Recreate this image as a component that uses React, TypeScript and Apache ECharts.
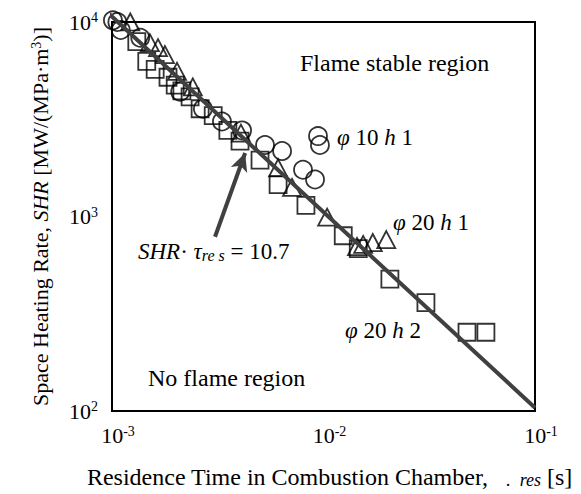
import React, { useEffect, useRef } from 'react';
import * as echarts from 'echarts';

// phi10 h1 (circles)
const circleX = [0.00101, 0.00106, 0.0011, 0.00136, 0.0021, 0.00269, 0.00331, 0.00412, 0.00529, 0.00637, 0.00942, 0.00962, 0.008, 0.00912];
const circleY = [10200, 10000, 9100, 8300, 4380, 3580, 3080, 2770, 2330, 2170, 2590, 2330, 1740, 1550];
// phi20 h1 (triangles)
const triX = [0.00122, 0.00151, 0.00165, 0.00178, 0.00203, 0.00241, 0.00407, 0.0061, 0.0071, 0.0104, 0.0144, 0.0154, 0.0171, 0.0198];
const triY = [10000, 7830, 7380, 6800, 5580, 4640, 2680, 1780, 1410, 993, 701, 718, 735, 761];
// phi20 h2 (squares)
const sqX = [0.00131, 0.00146, 0.0016, 0.00184, 0.00199, 0.00214, 0.00234, 0.00261, 0.00301, 0.00353, 0.00403, 0.00501, 0.0061, 0.00826, 0.0124, 0.0146, 0.0206, 0.0305, 0.0477, 0.0586];
const sqY = [7920, 6270, 5710, 5200, 4740, 4420, 4120, 3580, 3300, 2770, 2440, 1950, 1460, 1140, 796, 684, 476, 361, 254, 254];
// SHR * tau_res = 10.7 reference line
const lineX = [0.00097, 0.1];
const lineY = [11000, 104];
// arrow (tail, head)
const arrowX = [0.00307, 0.00426];
const arrowY = [787, 2120];

const FONT = '"Liberation Serif", "Times New Roman", serif';
const FS = 23;

const pairs = (xs: number[], ys: number[]) => xs.map((x, i) => [x, ys[i]]);

export default function App() {
  const ref = useRef<HTMLDivElement>(null);
  useEffect(() => {
    if (!ref.current) return;
    const chart = echarts.init(ref.current, null, { renderer: 'svg' });
    const markerStyle = { color: 'rgba(0,0,0,0)', borderColor: '#000', borderWidth: 1.8 };
    const tickFmt = (v: number) => `{b|10}{s|${Math.round(Math.log10(v))}}`;
    const supStyle = { fontFamily: FONT, fontSize: 14, color: '#000', verticalAlign: 'top', padding: [0, 0, 9, 0] };
    const xTickRich = {
      b: { fontFamily: FONT, fontSize: 22, color: '#000', padding: [0, 0, 0, 12] },
      s: supStyle,
    };
    const yTickRich = {
      b: { fontFamily: FONT, fontSize: 22, color: '#000' },
      s: supStyle,
    };
    const txt = (x: number, y: number, text: string, fs: number, rich?: any) => ({
      type: 'text', left: x, top: y,
      style: { text, fontFamily: FONT, fontSize: fs, fill: '#000', rich },
    });
    const phiRich = {
      i: { fontFamily: FONT, fontSize: FS, fontStyle: 'italic', color: '#000' },
      n: { fontFamily: FONT, fontSize: FS, color: '#000' },
    };
    chart.setOption({
      animation: false,
      grid: { left: 112, top: 22, width: 423, height: 395, show: true, borderColor: '#000', borderWidth: 2, backgroundColor: 'transparent' },
      xAxis: {
        type: 'log', logBase: 10, min: 0.001, max: 0.1,
        axisLine: { show: true, lineStyle: { color: '#000', width: 2 } },
        axisTick: { show: false }, minorTick: { show: false }, splitLine: { show: false },
        axisLabel: { formatter: tickFmt, rich: xTickRich, margin: 13 },
        name: 'Residence Time in Combustion Chamber,   {sub|.  res} [s]',
        nameLocation: 'middle', nameGap: 53,
        nameTextStyle: {
          fontFamily: FONT, fontSize: 24, color: '#000', padding: [0, 0, 0, 12],
          rich: { sub: { fontFamily: FONT, fontSize: 18, fontStyle: 'italic', color: '#000', verticalAlign: 'bottom', padding: [7, 0, 0, 0] } },
        },
      },
      yAxis: {
        type: 'log', logBase: 10, min: 100, max: 10000,
        axisLine: { show: true, lineStyle: { color: '#000', width: 2 } },
        axisTick: { show: false }, minorTick: { show: false }, splitLine: { show: false },
        axisLabel: { formatter: tickFmt, rich: yTickRich, margin: 14 },
        name: 'Space Heating Rate, {i|SHR} [MW/(MPa·m{s|3})]',
        nameLocation: 'middle', nameGap: 60, nameRotate: 90,
        nameTextStyle: {
          fontFamily: FONT, fontSize: 22, color: '#000',
          rich: {
            i: { fontFamily: FONT, fontSize: 22, fontStyle: 'italic', color: '#000' },
            s: { fontFamily: FONT, fontSize: 14, color: '#000', verticalAlign: 'top', padding: [0, 0, 9, 0] },
          },
        },
      },
      series: [
        { type: 'scatter', name: 'φ10 h1', data: pairs(circleX, circleY), symbol: 'circle', symbolSize: 18, itemStyle: markerStyle, clip: false, z: 2 },
        { type: 'scatter', name: 'φ20 h1', data: pairs(triX, triY), symbol: 'triangle', symbolSize: [18, 17], itemStyle: markerStyle, clip: false, z: 2 },
        { type: 'scatter', name: 'φ20 h2', data: pairs(sqX, sqY), symbol: 'rect', symbolSize: 17, itemStyle: markerStyle, clip: false, z: 2 },
        {
          type: 'line', data: pairs(lineX, lineY), symbol: 'none', clip: false, z: 3,
          lineStyle: { color: '#404040', width: 4 },
          markLine: {
            silent: true, symbol: ['none', 'arrow'], symbolSize: [13, 18], animation: false,
            label: { show: false },
            lineStyle: { color: '#404040', width: 4, type: 'solid' },
            data: [[{ coord: [arrowX[0], arrowY[0]] }, { coord: [arrowX[1], arrowY[1]] }]],
          },
        },
      ],
      graphic: [
        txt(300, 51, 'Flame stable region', 24),
        txt(148, 366, 'No flame region', 24),
        txt(337, 126, '{i|φ}{n| 10 }{i|h}{n| 1}', FS, phiRich),
        txt(393, 211, '{i|φ}{n| 20 }{i|h}{n| 1}', FS, phiRich),
        txt(345, 319, '{i|φ}{n| 20 }{i|h}{n| 2}', FS, phiRich),
        txt(138, 240, '{i|SHR}{n|· }{i|τ}{sub|re s}{n| = 10.7}', FS, {
          ...phiRich,
          sub: { fontFamily: FONT, fontSize: 16, fontStyle: 'italic', color: '#000', verticalAlign: 'bottom', padding: [8, 0, 0, 0] },
        }),
      ],
    });
    return () => chart.dispose();
  }, []);
  return <div ref={ref} style={{ position: 'fixed', left: 0, top: 0, width: 581, height: 494, background: '#fff' }} />;
}
